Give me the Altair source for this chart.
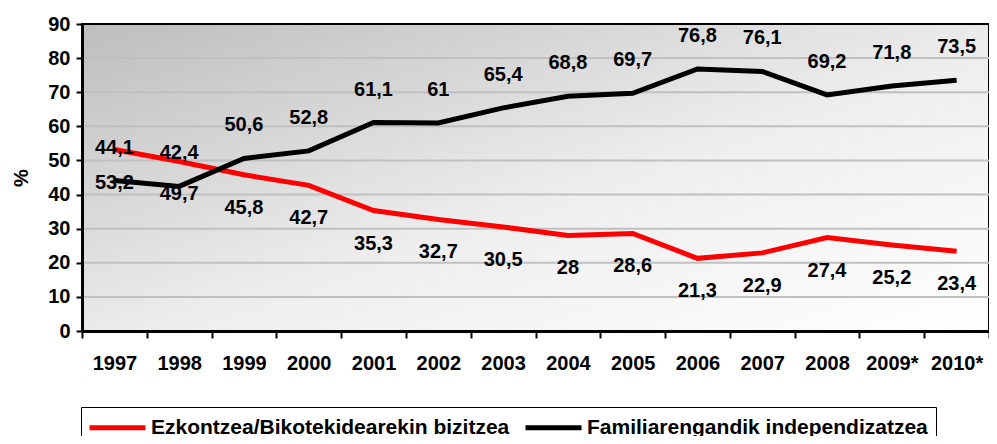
import altair as alt
import pandas as pd

years = ["1997", "1998", "1999", "2000", "2001", "2002", "2003", "2004",
         "2005", "2006", "2007", "2008", "2009*", "2010*"]
ezkontzea = [53.2, 49.7, 45.8, 42.7, 35.3, 32.7, 30.5, 28, 28.6, 21.3, 22.9, 27.4, 25.2, 23.4]
familia = [44.1, 42.4, 50.6, 52.8, 61.1, 61, 65.4, 68.8, 69.7, 76.8, 76.1, 69.2, 71.8, 73.5]
series = ["Ezkontzea/Bikotekidearekin bizitzea", "Familiarengandik independizatzea"]
colors = ["#ff0000", "#000000"]
y_ticks = [0, 10, 20, 30, 40, 50, 60, 70, 80, 90]
grid_vals = [10, 20, 30, 40, 50, 60, 70, 80]

rows = []
for i, y in enumerate(years):
    rows.append({"year": y, "serie": series[0], "value": ezkontzea[i]})
    rows.append({"year": y, "serie": series[1], "value": familia[i]})
df = pd.DataFrame(rows)
grid_df = pd.DataFrame({"value": grid_vals})

FONT = "Liberation Sans"
FS = 20
W, H = 907, 307

x_axis = alt.Axis(title=None, labelAngle=0, tickBand="extent", domainColor="black",
                  domainWidth=3, tickColor="black", tickWidth=2, tickSize=7,
                  labelPadding=15, labelFontSize=FS, labelFont=FONT,
                  labelFontWeight="bold", labelColor="black", grid=False, zindex=1,
                  labelOverlap=False)
y_axis = alt.Axis(title="%", values=y_ticks, domainColor="black", domainWidth=3,
                  tickColor="black", tickWidth=2, tickSize=6, labelPadding=6,
                  labelFontSize=FS, labelFont=FONT, labelFontWeight="bold",
                  labelColor="black", titleFontSize=FS, titleFont=FONT,
                  titleFontWeight="bold", titleColor="black", titlePadding=16,
                  grid=False, zindex=1, labelOverlap=False, labelFlush=False)
y_scale = alt.Scale(domain=[0, 90], nice=False, zero=True)

x_enc = alt.X("year:N", sort=years, bandPosition=0.5,
              scale=alt.Scale(type="band", paddingInner=0, paddingOuter=0), axis=x_axis)
y_enc = alt.Y("value:Q", scale=y_scale, axis=y_axis)

bg = alt.Chart(grid_df).mark_rect(
    color=alt.LinearGradient(
        gradient="linear", x1=0, y1=0, x2=1, y2=1,
        stops=[alt.GradientStop(offset=0, color="#bdbdbd"),
               alt.GradientStop(offset=0.55, color="#eeeeee"),
               alt.GradientStop(offset=1, color="#ffffff")]),
    stroke="black", strokeWidth=2,
).encode(x=alt.value(0), x2=alt.value(W), y=alt.value(0), y2=alt.value(H))

grid = alt.Chart(grid_df).mark_rule(color="#c0c0c0", strokeWidth=2).encode(
    y=y_enc, x=alt.value(0), x2=alt.value(W))

base = alt.Chart(df)

lines = base.mark_line(strokeWidth=5).encode(
    x=x_enc, y=y_enc,
    color=alt.Color(
        "serie:N", scale=alt.Scale(domain=series, range=colors),
        legend=alt.Legend(
            title=None, orient="none", direction="horizontal", legendX=-1, legendY=383,
            symbolType="M-1.2,0H4.4", symbolStrokeWidth=5, symbolSize=400,
            labelFont=FONT, labelFontSize=21, labelFontWeight="bold",
            labelColor="black", labelLimit=600, labelOffset=37, columnPadding=5,
            strokeColor="black", fillColor="white", padding=8,
        ),
    ),
)

label_common = dict(font=FONT, fontSize=FS, fontWeight="bold", color="black")

lbl_black = base.transform_filter(alt.datum.serie == series[1]).transform_calculate(
    txt="replace(toString(datum.value), '.', ',')"
).mark_text(dy=-33, **label_common).encode(
    x=alt.X("year:N", sort=years, bandPosition=0.5), y=y_enc, text="txt:N")

lbl_red = base.transform_filter(alt.datum.serie == series[0]).transform_calculate(
    txt="replace(toString(datum.value), '.', ',')"
).mark_text(dy=33, **label_common).encode(
    x=alt.X("year:N", sort=years, bandPosition=0.5), y=y_enc, text="txt:N")

chart = alt.layer(bg, grid, lines, lbl_black, lbl_red).properties(
    width=W, height=H,
    autosize=alt.AutoSizeParams(type="none"),
    padding={"left": 74, "top": 16, "right": 0, "bottom": 105},
).configure_view(stroke=None)

chart.save("out.html", embed_options={"renderer": "svg", "actions": False})
